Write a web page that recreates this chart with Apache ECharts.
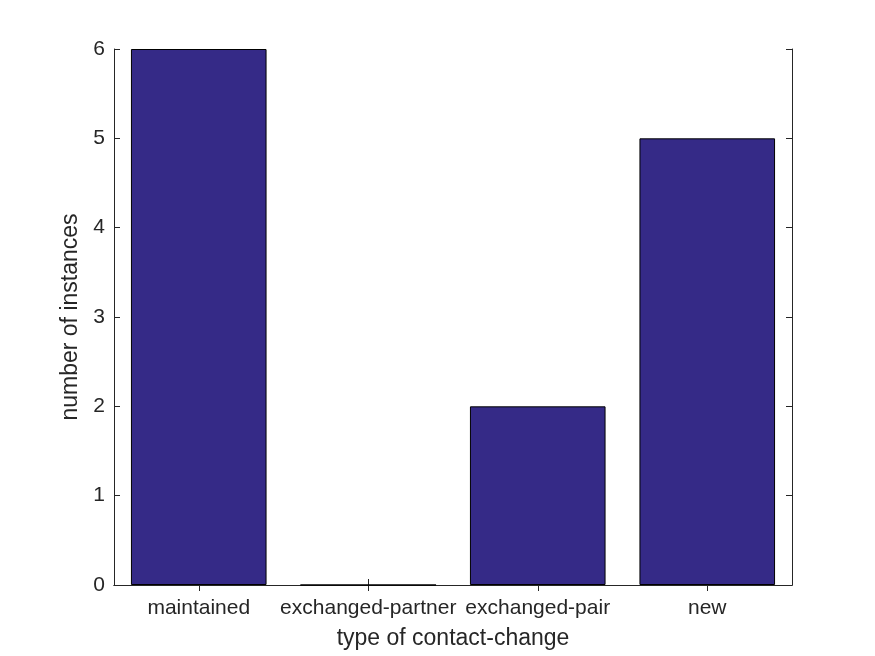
<!DOCTYPE html>
<html><head><meta charset="utf-8">
<script src="https://cdn.jsdelivr.net/npm/echarts@6/dist/echarts.min.js"></script>
<style>html,body{margin:0;padding:0;background:#fff}#c{width:875px;height:656px}</style>
</head><body><div id="c"></div>
<script>
const categories = ['maintained', 'exchanged-partner', 'exchanged-pair', 'new'];
const counts = [6, 0, 2, 5];
const yTicks = [0, 1, 2, 3, 4, 5, 6];

const chart = echarts.init(document.getElementById('c'), null, {renderer: 'canvas'});
const font = 'Liberation Sans, Arial, Helvetica, sans-serif';
const txt = '#262626';
const axLine = {show: true, lineStyle: {color: '#262626', width: 1}};
chart.setOption({
  animation: false,
  backgroundColor: '#fff',
  grid: {left: 114, right: 83, top: 49, bottom: 71, containLabel: false},
  xAxis: [{
    type: 'category', data: categories, position: 'bottom',
    axisLine: axLine,
    axisTick: {show: true, inside: true, alignWithLabel: true, length: 6, lineStyle: {color: '#262626'}},
    axisLabel: {color: txt, fontFamily: font, fontSize: 21, margin: 13, interval: 0},
    name: 'type of contact-change', nameLocation: 'middle', nameGap: 42,
    nameTextStyle: {color: txt, fontFamily: font, fontSize: 23},
    splitLine: {show: false}
  }, {
    type: 'category', data: categories, position: 'top',
    axisLine: axLine,
    axisTick: {show: true, inside: true, alignWithLabel: true, length: 6, lineStyle: {color: '#262626'}},
    axisLabel: {show: false}, splitLine: {show: false}
  }],
  yAxis: [{
    type: 'value', min: 0, max: 6, interval: 1, position: 'left',
    axisLine: axLine,
    axisTick: {show: true, inside: true, length: 6, lineStyle: {color: '#262626'}},
    axisLabel: {color: txt, fontFamily: font, fontSize: 21, margin: 9,
      formatter: v => yTicks.includes(v) ? String(v) : ''},
    name: 'number of instances', nameLocation: 'middle', nameGap: 27,
    nameTextStyle: {color: txt, fontFamily: font, fontSize: 23},
    splitLine: {show: false}
  }, {
    type: 'value', min: 0, max: 6, interval: 1, position: 'right',
    axisLine: axLine,
    axisTick: {show: true, inside: true, length: 6, lineStyle: {color: '#262626'}},
    axisLabel: {show: false}, splitLine: {show: false}
  }],
  series: [{
    type: 'bar', data: counts, xAxisIndex: 0, yAxisIndex: 0,
    barCategoryGap: '20%',
    itemStyle: {color: '#352a87', borderColor: '#000', borderWidth: 1},
    z: 1
  }]
});
</script></body></html>
